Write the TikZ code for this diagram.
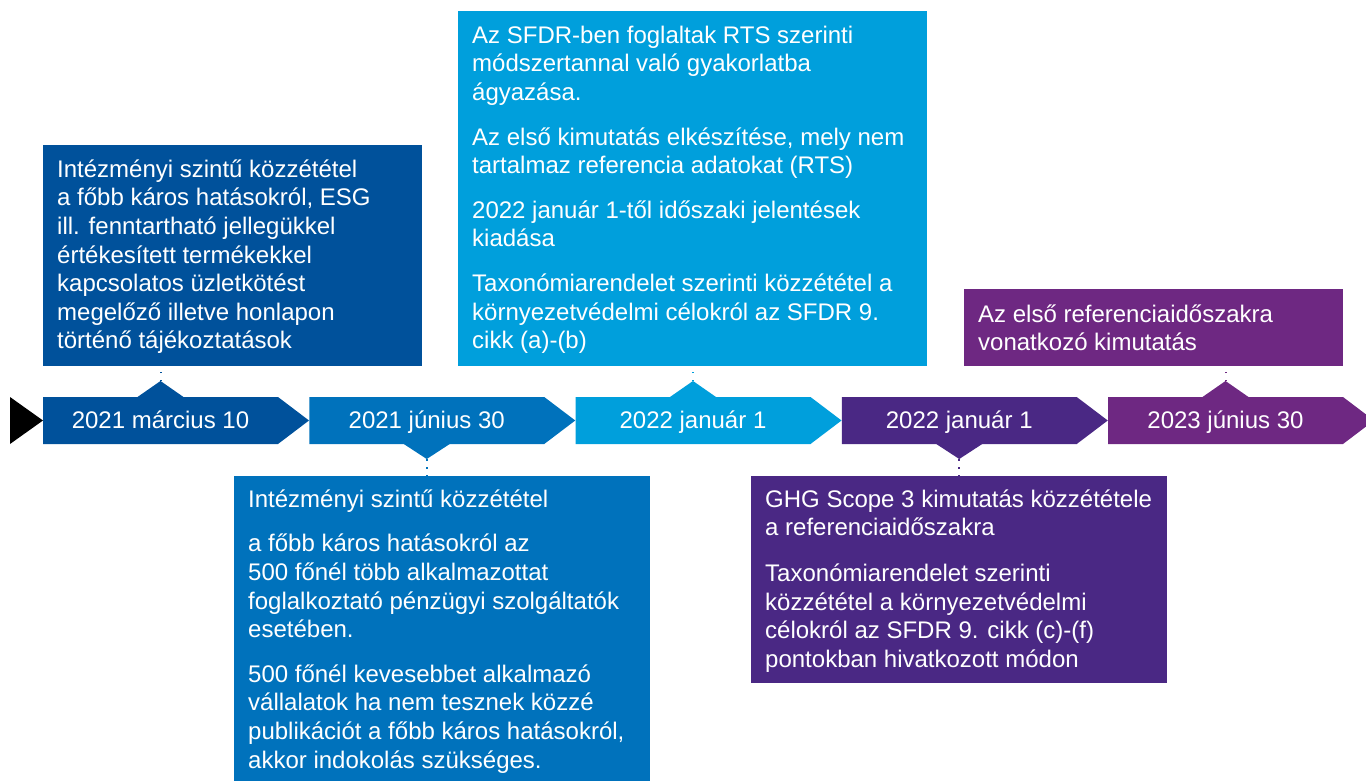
\documentclass[tikz,border=0pt]{standalone}
\usepackage{fontspec}
\setmainfont{Liberation Sans}
\definecolor{cA}{HTML}{00519B}
\definecolor{cB}{HTML}{0072BC}
\definecolor{cC}{HTML}{009FDC}
\definecolor{cD}{HTML}{4A2884}
\definecolor{cE}{HTML}{6E2882}
\begin{document}
\begin{tikzpicture}[x=1pt,y=-1pt,
  infobox/.style={rectangle, inner sep=0pt, anchor=north west, draw=none},
  txt/.style={anchor=north west, inner sep=0pt, align=left, text=white,
    font=\fontsize{24}{28.6}\selectfont},
  lbl/.style={inner sep=0pt, anchor=base, text=white, font=\fontsize{24}{28.6}\selectfont},
  conn/.style={line width=2pt, dash pattern=on 1.5pt off 6.5pt}]
\useasboundingbox (0,0) rectangle (1366,781);

% timeline start marker
\fill[black] (10,397) -- (43,420.5) -- (10,444) -- cycle;

% arrows
\foreach \x/\c in {43/cA, 309.25/cB, 575.5/cC, 841.75/cD, 1108/cE}{
  \fill[\c] (\x,397) -- ({\x+235},397) -- ({\x+266},420.5) -- ({\x+235},444) -- (\x,444) -- cycle;
}

% small triangles
\fill[cA] (137.5,397) -- (160.5,381) -- (183.5,397) -- cycle;
\fill[cB] (403.75,444) -- (426.75,459) -- (449.75,444) -- cycle;
\fill[cC] (670,397) -- (693,381) -- (716,397) -- cycle;
\fill[cD] (936.25,444) -- (959.25,459) -- (982.25,444) -- cycle;
\fill[cE] (1202.5,397) -- (1225.5,381) -- (1248.5,397) -- cycle;

% arrow labels
\node[lbl] (a1) at (160.5,428) {2021 március 10};
\node[lbl] (a2) at (426.75,428) {2021 június 30};
\node[lbl] (a3) at (693,428) {2022 január 1};
\node[lbl] (a4) at (959.25,428) {2022 január 1};
\node[lbl] (a5) at (1225.5,428) {2023 június 30};

% boxes
\node[infobox, fill=cA, minimum width=379pt, minimum height=221pt] (b1) at (43,145) {};
\node[infobox, fill=cC, minimum width=469pt, minimum height=355pt] (b3) at (458,11) {};
\node[infobox, fill=cE, minimum width=379pt, minimum height=77pt] (b5) at (964,289) {};
\node[infobox, fill=cB, minimum width=416pt, minimum height=310pt] (b2) at (234,476) {};
\node[infobox, fill=cD, minimum width=416pt, minimum height=207pt] (b4) at (751,476) {};

% texts
\node[txt] (t1) at (57,153) {\rule{0pt}{24pt}Intézményi szintű közzététel\\
a főbb káros hatásokról, ESG\\
ill. fenntartható jellegükkel\\
értékesített termékekkel\\
kapcsolatos üzletkötést\\
megelőző illetve honlapon\\
történő tájékoztatások};

\node[txt] (t3) at (472,19) {\rule{0pt}{24pt}Az SFDR-ben foglaltak RTS szerinti\\
módszertannal való gyakorlatba\\
ágyazása.\\[16pt]
Az első kimutatás elkészítése, mely nem\\
tartalmaz referencia adatokat (RTS)\\[16pt]
2022 január 1-től időszaki jelentések\\
kiadása\\[16pt]
Taxonómiarendelet szerinti közzététel a\\
környezetvédelmi célokról az SFDR 9.\\
cikk (a)-(b)};

\node[txt] (t5) at (978,298) {\rule{0pt}{24pt}Az első referenciaidőszakra\\
vonatkozó kimutatás};

\node[txt] (t2) at (248,483) {\rule{0pt}{24pt}Intézményi szintű közzététel\\[16pt]
a főbb káros hatásokról az\\
500 főnél több alkalmazottat\\
foglalkoztató pénzügyi szolgáltatók\\
esetében.\\[16pt]
500 főnél kevesebbet alkalmazó\\
vállalatok ha nem tesznek közzé\\
publikációt a főbb káros hatásokról,\\
akkor indokolás szükséges.};

\node[txt] (t4) at (765,483) {\rule{0pt}{24pt}GHG Scope 3 kimutatás közzététele\\
a referenciaidőszakra\\[17pt]
Taxonómiarendelet szerinti\\
közzététel a környezetvédelmi\\
célokról az SFDR 9. cikk (c)-(f)\\
pontokban hivatkozott módon};

% dotted connectors
\coordinate (p1) at (160.5,381);
\coordinate (p2) at (426.75,459);
\coordinate (p3) at (693,381);
\coordinate (p4) at (959.25,459);
\coordinate (p5) at (1225.5,381);
\draw[conn, cA] (p1) -- (p1 |- b1.south);
\draw[conn, cB] (p2) -- (p2 |- b2.north);
\draw[conn, cC] (p3) -- (p3 |- b3.south);
\draw[conn, cD] (p4) -- (p4 |- b4.north);
\draw[conn, cE] (p5) -- (p5 |- b5.south);
\end{tikzpicture}
\end{document}
